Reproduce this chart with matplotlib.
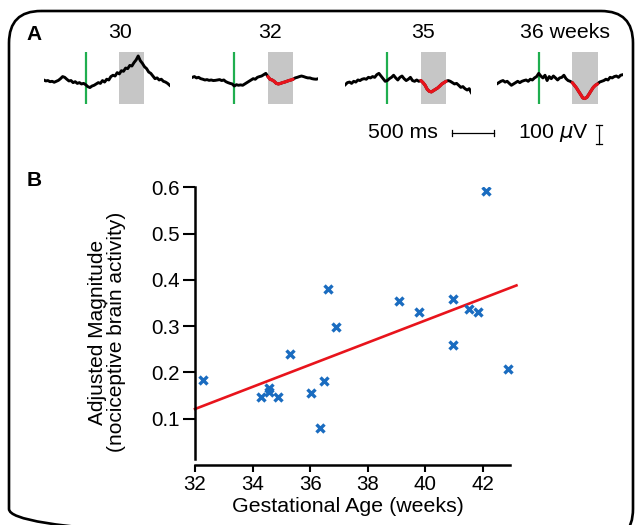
import numpy as np
import matplotlib
matplotlib.use('Agg')
import matplotlib.pyplot as plt
from matplotlib.patches import FancyBboxPatch

plt.rcParams['font.family'] = ['Liberation Sans', 'DejaVu Sans']

# ---- panel A: averaged responses (uV) sampled every 25 ms, stimulus at 0 ms
t_ms = np.arange(-500, 1001, 25)
trace_titles = ['30', '32', '35', '36 weeks']
trace_30 = [7, 2, 4, -2, 0, -5, 0, 5, 14, 25,
            21, 11, 2, 4, -7, -2, -11, -7, -14, -11,
            -18, -28, -33, -25, -21, -14, -7, -11, 4, -4,
            11, 7, 25, 32, 28, 46, 39, 56, 53, 70,
            67, 84, 81, 99, 113, 134, 109, 95, 77, 67,
            49, 42, 28, 14, 18, 7, 11, 0, -4, -11, -21]
trace_32 = [21, 25, 18, 21, 14, 11, 7, 9, 5, 7,
            4, 5, 7, 9, 4, 7, -2, -7, -11, -14,
            -25, -18, -21, -19, -21, -14, -7, 0, 7, 14,
            11, 21, 25, 28, 35, 42, 25, 11, 7, 0,
            -11, -14, -11, -7, -4, 0, 4, 7, 11, 18,
            21, 25, 28, 25, 21, 18, 18, 14, 12, 11, 14]
trace_35 = [-18, -7, -4, -11, 0, -4, 7, 4, 11, 14,
            11, 21, 18, 25, 21, 35, 42, 28, 14, 0,
            4, 14, 21, 32, 18, 7, 21, 28, 14, 4,
            11, 21, 4, 0, 7, 0, 4, -7, -21, -42,
            -53, -56, -49, -42, -35, -25, -14, -7, 0, 4,
            0, -7, -14, -11, -21, -32, -28, -39, -46, -39, -60]
trace_36 = [-14, -7, 0, 4, -4, 0, -11, -21, -14, -7,
            0, -7, 0, 4, 7, 0, 11, 7, 18, 25,
            42, 28, 18, 32, 4, 25, 14, 28, 18, 7,
            18, 21, 32, 14, 4, 0, -7, -21, -35, -53,
            -70, -88, -91, -84, -67, -49, -32, -21, -14, -4,
            0, 4, 11, 7, 21, 18, 25, 28, 21, 32, 35]
traces = [trace_30, trace_32, trace_35, trace_36]
show_red = [False, True, True, True]
window_ms = (400, 700)

# ---- panel B
ages = [32.28, 34.28, 34.57, 34.57, 34.87, 35.30, 36.03, 36.47, 36.34, 36.62,
        36.90, 39.07, 39.78, 40.96, 40.96, 41.53, 41.83, 42.10, 42.85]
mags = [0.184, 0.147, 0.167, 0.158, 0.148, 0.240, 0.156, 0.181, 0.081, 0.381,
        0.298, 0.354, 0.331, 0.359, 0.259, 0.336, 0.331, 0.591, 0.207]
fit_x = [32.0, 43.16]
fit_y = [0.121, 0.388]

W, H = 638, 525
fig = plt.figure(figsize=(W / 100, H / 100), dpi=100)


def px_axes(x0, y0, x1, y1):
    # figure-pixel box (top-left origin) -> axes
    return fig.add_axes([x0 / W, 1 - y1 / H, (x1 - x0) / W, (y1 - y0) / H])


# rounded frame round the whole figure
bg = fig.add_axes([0, 0, 1, 1], zorder=-5)
bg.set_xlim(0, W)
bg.set_ylim(H, 0)
bg.axis('off')
bg.add_patch(FancyBboxPatch((9, 11), 624, 530, boxstyle='round,pad=0,rounding_size=32',
                            fill=False, lw=1.9, ec='black'))

fig.text(34 / W, 1 - 35 / H, 'A', fontsize=15, fontweight='bold', ha='center', va='center')
fig.text(34 / W, 1 - 180 / H, 'B', fontsize=15, fontweight='bold', ha='center', va='center')

trace_boxes = [(43.7, 169.7), (192.3, 318.3), (345.3, 471.3), (496.7, 622.7)]
title_x = [120, 270, 423, 565]
trace_axes = []
for i, (x0, x1) in enumerate(trace_boxes):
    ax = px_axes(x0, 52, x1, 104)
    ax.set_xlim(-500, 1000)
    ax.set_ylim(-120, 155)
    ax.axis('off')
    ax.axvspan(window_ms[0], window_ms[1], color='#c6c6c6', lw=0, zorder=1)
    ax.axvline(0, color='#1fae4f', lw=1.6, zorder=2)
    y = np.array(traces[i])
    ax.plot(t_ms, y, color='black', lw=2.1, zorder=3, solid_joinstyle='round')
    if show_red[i]:
        m = (t_ms >= window_ms[0]) & (t_ms <= window_ms[1])
        ax.plot(t_ms[m], y[m], color='#e8141c', lw=2.3, zorder=4, solid_capstyle='round')
    fig.text(title_x[i] / W, 1 - 33 / H, trace_titles[i], fontsize=15.3, ha='center', va='center')
    trace_axes.append(ax)

# scale bars drawn in the last trace's units
sa = trace_axes[3]
sa.plot([-1036, -536], [-272, -272], color='black', lw=0.9, clip_on=False)
for xb in (-1036, -536):
    sa.plot([xb, xb], [-288, -256], color='black', lw=0.9, clip_on=False)
sa.plot([718, 718], [-331, -231], color='black', lw=0.9, clip_on=False)
for yb in (-331, -231):
    sa.plot([678, 758], [yb, yb], color='black', lw=0.9, clip_on=False)
sa.text(-1615, -273, '500 ms', fontsize=15.3, ha='center', va='center', clip_on=False)
sa.text(171, -273, r'100 $\mu$V', fontsize=15.3, ha='center', va='center', clip_on=False)

# ---- panel B
axb = px_axes(195, 187.3, 517.6, 465)
axb.set_xlim(32, 43.2)
axb.set_ylim(0, 0.6)
axb.plot(fit_x, fit_y, color='#e8141c', lw=1.9, clip_on=False, zorder=2)
axb.plot(ages, mags, 'x', color='#1a6cc0', ms=5.5, mew=2.4, zorder=3)
axb.spines['top'].set_visible(False)
axb.spines['right'].set_visible(False)
for s in ('left', 'bottom'):
    axb.spines[s].set_linewidth(1.8)
axb.spines['bottom'].set_bounds(32, 42.93)
axb.spines['left'].set_bounds(0.012, 0.6)
axb.set_xticks([32, 34, 36, 38, 40, 42])
axb.set_yticks([0.1, 0.2, 0.3, 0.4, 0.5, 0.6])
axb.set_yticklabels(['0.1', '0.2', '0.3', '0.4', '0.5', '0.6'])
axb.tick_params(axis='x', length=5, width=1.5, labelsize=14.8, pad=2)
axb.tick_params(axis='y', length=9, width=1.5, labelsize=14.8, pad=2)
axb.patch.set_alpha(0)

fig.text(348 / W, 1 - 507 / H, 'Gestational Age (weeks)', fontsize=15.4, ha='center', va='center')
fig.text(107 / W, 1 - 332 / H, 'Adjusted Magnitude\n(nociceptive brain activity)', fontsize=15,
         ha='center', va='center', rotation=90, multialignment='center', linespacing=1.05)

fig.savefig('out.png', dpi=100)
